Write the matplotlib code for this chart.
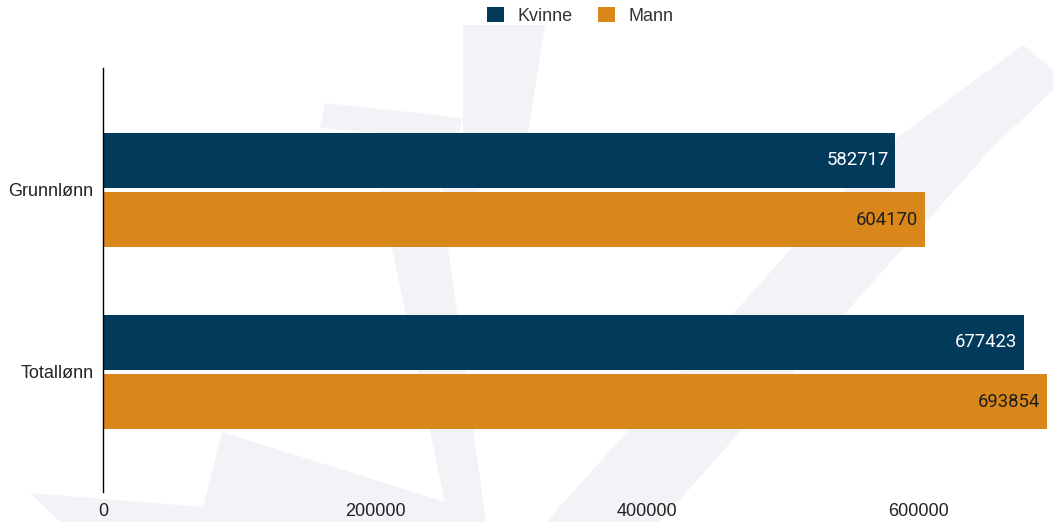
import numpy as np
import matplotlib
matplotlib.use("Agg")
import matplotlib.pyplot as plt
from matplotlib.patches import Polygon

plt.rcParams['font.family'] = ['Liberation Sans', 'DejaVu Sans']

# data
categories = ["Grunnlønn", "Totallønn"]
series_names = ["Kvinne", "Mann"]
kvinne = [582717, 677423]
mann = [604170, 693854]
xticks = [0, 200000, 400000, 600000]

colors = ["#023a5c", "#d9861a"]
label_colors = ["white", "#1e1e1e"]

W, H = 1053, 522
fig = plt.figure(figsize=(W / 100, H / 100), dpi=100)
fig.patch.set_facecolor("white")

# faint watermark in the background (figure pixel coords)
def px(pts):
    return [(x / W, 1 - y / H) for x, y in pts]

wm_color = "#f1f3f7"
shapes = [
    [(463, 25), (545, 25), (527, 140), (470, 200), (440, 200), (463, 118), (325, 103), (320, 128), (463, 140)],
    [(380, 190), (440, 190), (486, 522), (449, 522)],
    [(30, 493), (203, 507), (222, 432), (445, 502), (449, 522), (60, 522)],
    [(546, 522), (660, 522), (990, 150), (1053, 90), (1053, 70), (1023, 45), (880, 150)],
]
for s in shapes:
    fig.add_artist(Polygon(px(s), closed=True, facecolor=wm_color, edgecolor="none", zorder=0))

ax = fig.add_axes([103 / W, 1 - 492 / H, (W - 103) / W, (492 - 68) / H])
ax.set_facecolor("none")

y = np.arange(len(categories))
h = 0.302
off = 0.164
values = [kvinne, mann]
for i, (name, vals) in enumerate(zip(series_names, values)):
    yy = y + (-off if i == 0 else off)
    ax.barh(yy, vals, height=h, color=colors[i], label=name, zorder=2)
    for v, yv in zip(vals, yy):
        ax.annotate(str(v), xy=(v, yv), xytext=(-5, 0), textcoords="offset points",
                    ha="right", va="center", fontsize=13.3, color=label_colors[i],
                    family=["Roboto", "DejaVu Sans"], zorder=3)

ax.set_xlim(0, (W - 103) / 272 * 200000)
ax.set_ylim(1.66, -0.67)
ax.set_yticks(y)
ax.set_yticklabels(categories, fontsize=13, color="#222222")
ax.set_xticks(xticks)
ax.set_xticklabels([str(t) for t in xticks], fontsize=13, color="#222222")
ax.tick_params(axis="both", length=0)
ax.tick_params(axis="x", pad=8)
ax.tick_params(axis="y", pad=7)
for sp in ["top", "right", "bottom"]:
    ax.spines[sp].set_visible(False)
ax.spines["left"].set_color("black")
ax.spines["left"].set_linewidth(1.0)

fig.legend(loc="upper center", bbox_to_anchor=(580 / W, 1.018), ncol=2, frameon=False,
           fontsize=13, handlelength=0.95, handleheight=0.95, handletextpad=0.75,
           columnspacing=1.4, labelcolor="#333333")

fig.savefig("out.png", dpi=100, facecolor="white")
